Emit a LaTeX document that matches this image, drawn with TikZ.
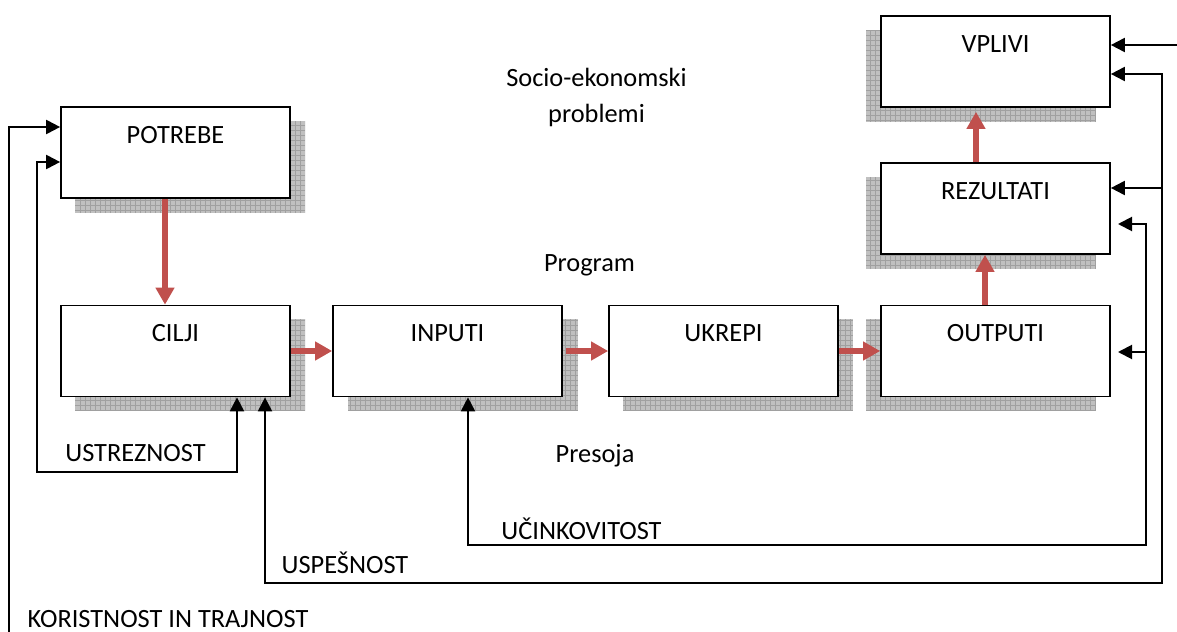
\documentclass[tikz,border=0pt]{standalone}
\usepackage{fontspec}
\setmainfont{Carlito}
\usetikzlibrary{arrows.meta}
\usetikzlibrary{calc,positioning}
\definecolor{arrowred}{RGB}{192,80,77}
\definecolor{shadowgray}{RGB}{192,192,192}
\definecolor{shadowline}{RGB}{160,160,160}
\tikzset{
    boxnode/.style = {draw, line width=1.7*0.02cm, fill=white, minimum width=229*0.02cm, minimum height=91*0.02cm, inner sep=0pt, align=center, font=\fontsize{15}{15.6}\selectfont},
    txtnode/.style = {inner sep=0pt, align=center, font=\fontsize{15}{21}\selectfont},
    redarrow/.style = {-{Triangle[length=0.34cm, width=0.36cm]}, line width=0.12cm, arrowred},
    backarrow/.style = {>={Triangle[length=0.28cm, width=0.28cm]}, ->, line width=2*0.02cm, black},
    backboth/.style = {backarrow, <->},
    shadowbox/.style = {fill=shadowgray, path picture={
        \draw[shadowline, line width=0.012cm, step=0.1cm] (path picture bounding box.south west) grid (path picture bounding box.north east);}}
}
\begin{document}
\begin{tikzpicture}[>=Stealth, x=0.02cm, y=-0.02cm]

    \useasboundingbox (0,0) rectangle (1177,632);

    % shadows
    \foreach \sx/\sy in {75/121, 75/319, 348/319, 623/319, 866/319, 866/177, 866/30}
        \path[shadowbox] (\sx,\sy) rectangle +(230,92);

    % boxes
    \node[boxnode] (potrebe) at (175.5,152.5) {POTREBE\\ \strut};
    \node[boxnode] (cilji) at (175.5,351) {CILJI\\ \strut};
    \node[boxnode] (inputi) at (447.5,351) {INPUTI\\ \strut};
    \node[boxnode] (ukrepi) at (723.5,351) {UKREPI\\ \strut};
    \node[boxnode] (outputi) at (995.5,351) {OUTPUTI\\ \strut};
    \node[boxnode] (rezultati) at (995.5,208.5) {REZULTATI\\ \strut};
    \node[boxnode] (vplivi) at (995.5,61.5) {VPLIVI\\ \strut};

    % texts
    \node[txtnode] (problemi) at (596.5,97.5) {Socio-ekonomski\\problemi};
    \node[txtnode] (program) at (589.5,265) {Program};
    \node[txtnode] (presoja) at (595,456) {Presoja};
    \node[txtnode] (ustreznost) at (135.5,453) {USTREZNOST};
    \node[txtnode] (ucinkovitost) at (581.5,529) {UČINKOVITOST};
    \node[txtnode] (uspesnost) at (345,562.5) {USPEŠNOST};
    \node[txtnode] (koristnost) at (168,619) {KORISTNOST IN TRAJNOST};

    % main flow
    \draw[redarrow] (potrebe.south -| 165,0) -- (cilji.north -| 165,0);
    \draw[redarrow] (cilji.east) -- (inputi.west);
    \draw[redarrow] ([xshift=0.06cm]inputi.east) -- (ukrepi.west);
    \draw[redarrow] (ukrepi.east) -- (outputi.west);
    \draw[redarrow] (outputi.north -| 985,0) -- (rezultati.south -| 985,0);
    \draw[redarrow] (rezultati.north -| 976,0) -- ([yshift=-0.08cm]vplivi.south -| 976,0);

    % free ends
    \coordinate (trajnostend) at (9,632);
    \coordinate (vplivend) at (1177,45);
    \coordinate (rezin) at (1118,224);
    \coordinate (outin) at (1118,352);

    % feedback
    \draw[backarrow] (trajnostend) |- (potrebe.west |- 0,127);
    \draw[backboth] (cilji.south -| 237,0) |- (37,472) |- (potrebe.west |- 0,162);
    \draw[backboth] (cilji.south -| 265,0) |- (1162,583) |- (vplivi.east |- 0,74);
    \draw[backboth] (inputi.south -| 468,0) |- (1146,545) |- (rezin);
    \draw[backarrow] (vplivend) -- (vplivi.east |- vplivend);
    \draw[backarrow] (1162,188) -- (rezultati.east |- 0,188);
    \draw[backarrow] (1146,352) -- (outin);

\end{tikzpicture}
\end{document}
